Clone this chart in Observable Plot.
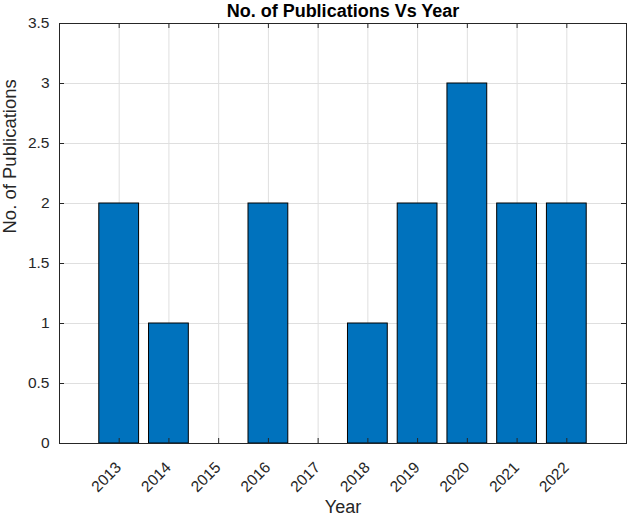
<!DOCTYPE html>
<html>
<head>
<meta charset="utf-8">
<script src="https://cdn.jsdelivr.net/npm/d3@7"></script>
<script src="https://cdn.jsdelivr.net/npm/@observablehq/plot@0.6"></script>
<style>
  html, body { margin: 0; padding: 0; background: #ffffff; }
  svg { display: block; }
</style>
</head>
<body>
<div id="chart"></div>
<script>
// ---- data ----
const years = [2013, 2014, 2015, 2016, 2017, 2018, 2019, 2020, 2021, 2022];
const counts = [2, 1, 0, 2, 0, 1, 2, 3, 2, 2];
const yTicks = [0, 0.5, 1, 1.5, 2, 2.5, 3, 3.5];
const xLimits = [2011.8, 2023.2];
const yLimits = [0, 3.5];
const titleText = "No. of Publications Vs Year";
const xLabelText = "Year";
const yLabelText = "No. of Publications";
const barWidth = 0.8;

// ---- build ----
const data = years.map((year, i) => ({year, count: counts[i]}));
const font = "'Liberation Sans', Arial, Helvetica, sans-serif";
const ink = "#262626";
const gridColor = "#dfdfdf";
const barColor = "#0072BD";
const tickLen = 5;

const chart = Plot.plot({
  width: 628,
  height: 517,
  marginLeft: 59,
  marginRight: 2,
  marginTop: 23,
  marginBottom: 74,
  style: {fontFamily: font, color: ink, background: "#ffffff", overflow: "visible"},
  x: {domain: xLimits, axis: null},
  y: {domain: yLimits, axis: null},
  marks: [
    Plot.gridX(years, {stroke: gridColor, strokeOpacity: 1}),
    Plot.gridY(yTicks, {stroke: gridColor, strokeOpacity: 1}),
    Plot.rectY(data, {
      x1: d => d.year - barWidth / 2,
      x2: d => d.year + barWidth / 2,
      y1: 0,
      y2: "count",
      fill: barColor,
      stroke: "#000000",
      strokeWidth: 1
    }),
    Plot.frame({stroke: ink, strokeWidth: 1}),
    // inward ticks (bottom, top, left, right)
    Plot.ruleX(years, {x: d => d, y1: yLimits[0], y2: yLimits[0], insetBottom: tickLen, stroke: ink}),
    Plot.ruleX(years, {x: d => d, y1: yLimits[1], y2: yLimits[1], insetTop: tickLen, stroke: ink}),
    Plot.ruleY(yTicks, {y: d => d, x1: xLimits[0], x2: xLimits[0], insetLeft: tickLen, stroke: ink}),
    Plot.ruleY(yTicks, {y: d => d, x1: xLimits[1], x2: xLimits[1], insetRight: tickLen, stroke: ink}),
    // x tick labels
    Plot.text(years, {
      x: d => d,
      text: d => String(d),
      frameAnchor: "bottom",
      rotate: -45,
      textAnchor: "end",
      lineAnchor: "bottom",
      dx: 3,
      dy: 25,
      fontSize: 15.5,
      fill: ink
    }),
    // y tick labels
    Plot.text(yTicks, {
      y: d => d,
      text: d => String(d),
      frameAnchor: "left",
      textAnchor: "end",
      lineAnchor: "middle",
      dx: -10,
      fontSize: 15.5,
      fill: ink
    }),
    // title
    Plot.text([titleText], {
      frameAnchor: "top",
      lineAnchor: "bottom",
      dy: -7,
      fontSize: 18,
      fontWeight: "bold",
      fill: "#000000"
    }),
    // x label
    Plot.text([xLabelText], {
      frameAnchor: "bottom",
      lineAnchor: "bottom",
      dy: 69,
      fontSize: 18,
      fill: ink
    }),
    // y label
    Plot.text([yLabelText], {
      frameAnchor: "left",
      lineAnchor: "bottom",
      rotate: -90,
      dx: -44,
      fontSize: 18.5,
      fill: ink
    })
  ]
});
document.getElementById("chart").appendChild(chart);
</script>
</body>
</html>
